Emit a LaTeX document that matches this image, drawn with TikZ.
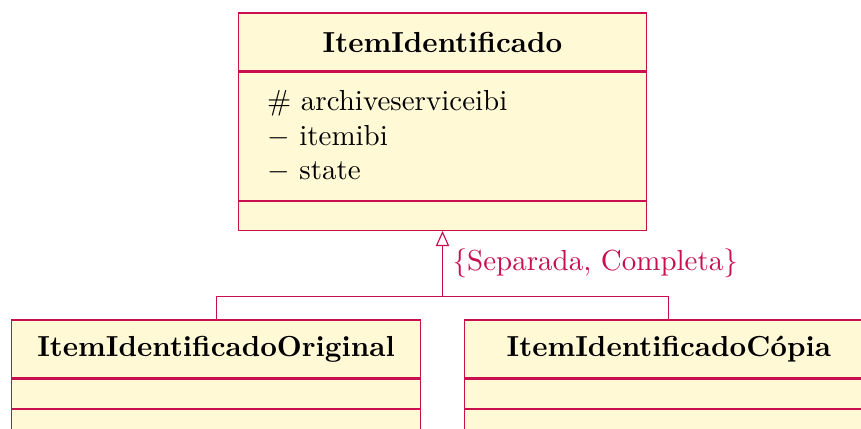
\documentclass[tikz,border=0pt]{standalone}
\usepackage{amsmath}
\usepackage{tikz}
\usetikzlibrary{positioning,arrows.meta}

\definecolor{umlred}{RGB}{200,16,80}
\definecolor{umlfill}{RGB}{255,249,214}

\tikzset{
  classname/.style={draw=umlred,fill=umlfill,minimum width=141pt,minimum height=20pt,
    inner sep=0pt,font=\bfseries},
  classattr/.style={draw=umlred,fill=umlfill,text width=121pt,inner xsep=10pt,inner ysep=0pt,
    align=left,minimum height=10pt},
  classop/.style={draw=umlred,fill=umlfill,minimum width=141pt,minimum height=10pt,inner sep=0pt},
  inherit/.style={draw=umlred,-{Triangle[open,length=5.2pt,width=4.6pt]}}
}

\begin{document}
\begin{tikzpicture}[node distance=105.9pt and 78.1pt]
   \useasboundingbox (-152.66pt,14.49pt) rectangle (144.38pt,-133.17pt);
   \clip (-152.66pt,14.49pt) rectangle (144.38pt,-133.17pt);
   % superclass
   \node[classname] (item) at (0,0) {ItemIdentificado};
   \node[classattr,minimum height=44.2pt] (item_attr) [below=0pt of item]
     {\# archiveserviceibi\\ $-$ itemibi\\ $-$ state};
   \node[classop] (item_op) [below=0pt of item_attr] {};
   % subclasses
   \node[classname,on grid] (orig) [below left=of item] {ItemIdentificadoOriginal};
   \node[classattr] (orig_attr) [below=0pt of orig] {};
   \node[classop] (orig_op) [below=0pt of orig_attr] {};
   \node[classname,on grid] (copia) [below right=of item] {ItemIdentificadoCópia};
   \node[classattr] (copia_attr) [below=0pt of copia] {};
   \node[classop] (copia_op) [below=0pt of copia_attr] {};
   % generalization
   \coordinate[below=22.5pt of item_op.south] (bus);
   \draw[inherit] (orig.north) |- (bus) -- node[right,text=umlred] {\{Separada, Completa\}} (item_op.south);
   \draw[umlred] (copia.north) |- (bus);
\end{tikzpicture}
\end{document}
